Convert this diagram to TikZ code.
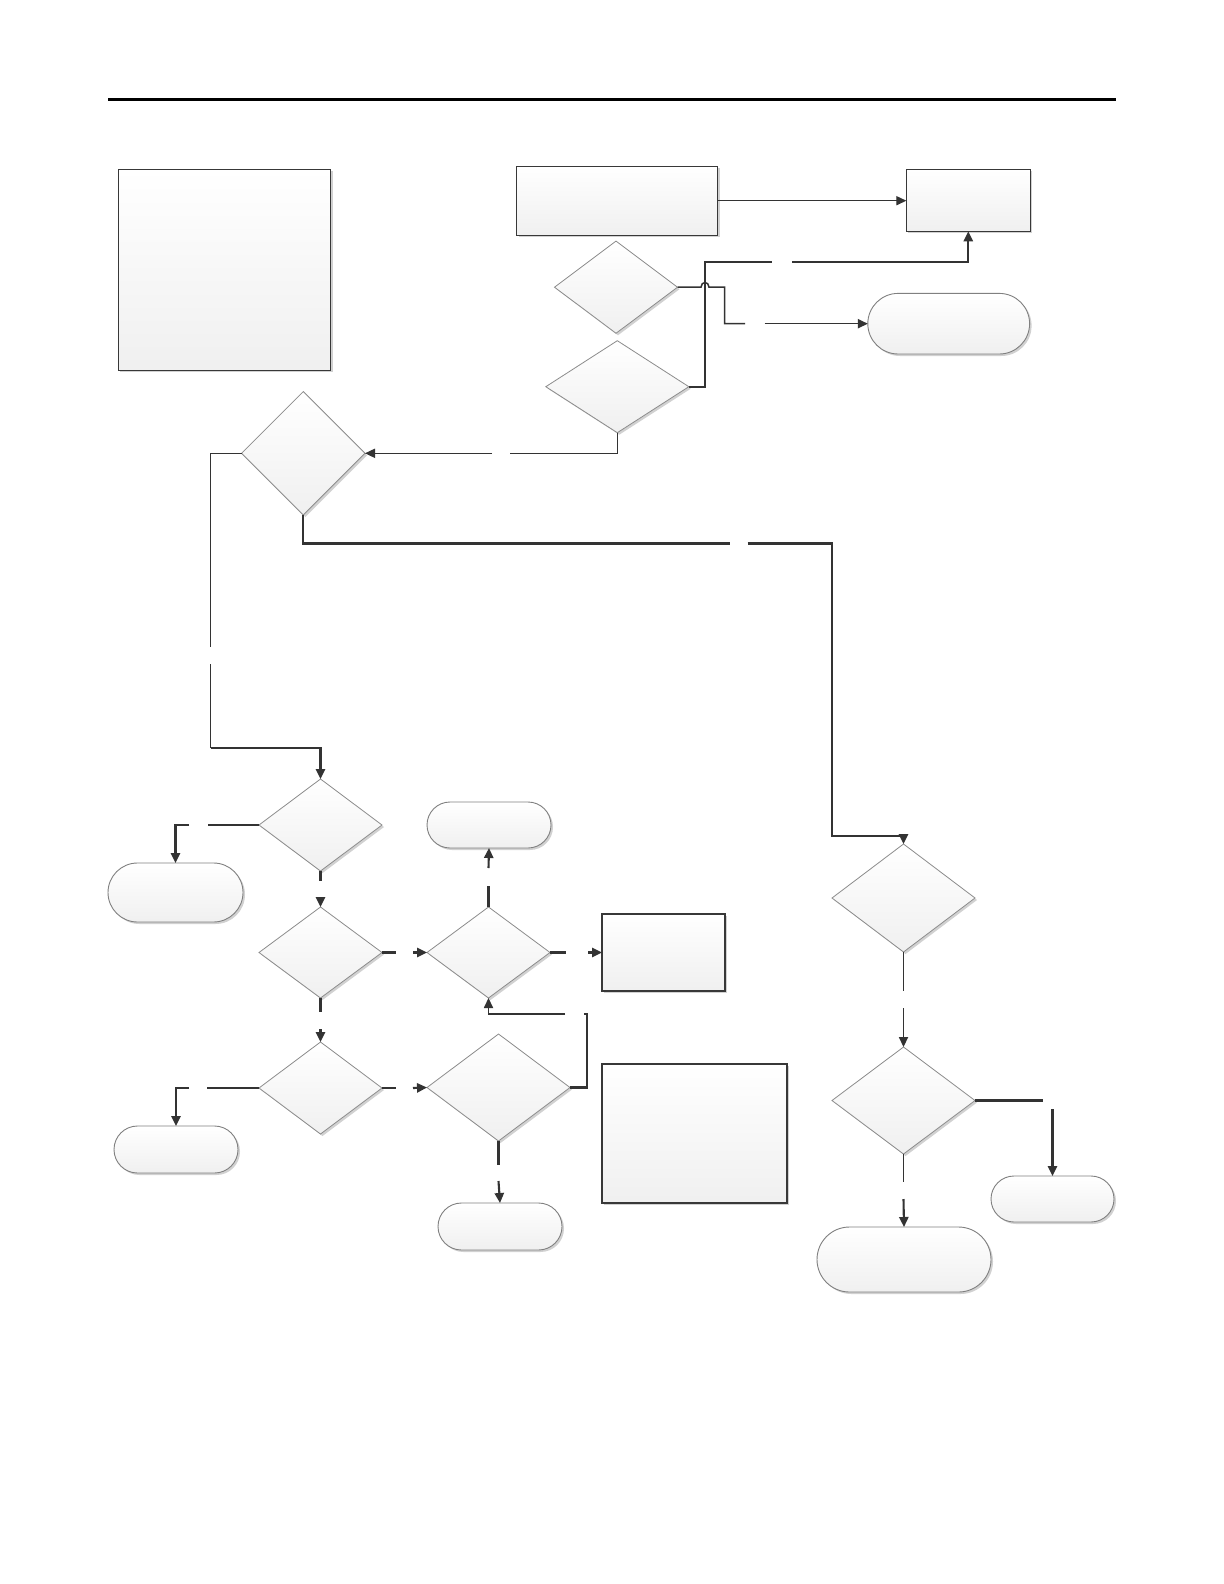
\documentclass[tikz,border=0pt]{standalone}
\usetikzlibrary{shapes.geometric,shapes.misc,shadows,arrows.meta}
\begin{document}
\begin{tikzpicture}[x=0.5pt,y=-0.5pt,
  >={Triangle[length=5pt,width=4.6pt]},
  shapebase/.style={inner sep=0pt, outer sep=0pt, top color=white, bottom color=black!6,
     drop shadow={shadow xshift=1pt,shadow yshift=-1pt,opacity=0.18,fill=black}},
  boxnode/.style={shapebase, rectangle, draw=black!78, line width=0.55pt},
  dianode/.style={shapebase, diamond, draw=black!45, line width=0.4pt},
  termnode/.style={shapebase, rounded rectangle, draw=black!50, line width=0.45pt},
  thinconn/.style={draw=black!80, line width=0.55pt},
  thickconn/.style={draw=black!80, line width=1.05pt},
]
\useasboundingbox (0,0) rectangle (1224,1584);
\fill[white] (0,0) rectangle (1224,1584);

% header rule
\draw[line width=1.5pt] (108,99.3) -- (1116,99.3);

% nodes
\node[boxnode, minimum width=106.2pt, minimum height=100.5pt] (A) at (224.5,269.8) {};
\node[boxnode, minimum width=100.5pt, minimum height=34.6pt] (B) at (617,200.7) {};
\node[boxnode, minimum width=62pt, minimum height=31pt] (C) at (968.3,200.3) {};
\node[dianode, minimum width=61.5pt, minimum height=46.1pt] (Da) at (616,287.2) {};
\node[dianode, minimum width=71.5pt, minimum height=46pt] (Db) at (617.3,386.7) {};
\node[termnode, minimum width=80.9pt, minimum height=30.3pt] (T1) at (948.7,323.7) {};
\node[dianode, minimum width=61.7pt, minimum height=61.7pt] (D0) at (303.3,453.3) {};

\node[dianode, minimum width=61.5pt, minimum height=46pt] (D1) at (320.5,825) {};
\node[termnode, minimum width=67.5pt, minimum height=29.5pt] (T2) at (175.5,892.5) {};
\node[dianode, minimum width=61.5pt, minimum height=45.5pt] (D2) at (320.5,952.5) {};
\node[dianode, minimum width=61.5pt, minimum height=45.5pt] (D5) at (488.5,952.5) {};
\node[termnode, minimum width=62pt, minimum height=23pt] (T3) at (489,825) {};
\node[boxnode, minimum width=61.5pt, minimum height=38.5pt] (R1) at (663.5,952.5) {};
\node[dianode, minimum width=61.5pt, minimum height=46pt] (D6) at (320.5,1088) {};
\node[termnode, minimum width=62pt, minimum height=23.5pt] (T4) at (176,1149.5) {};
\node[dianode, minimum width=71.5pt, minimum height=53.5pt] (D7) at (498.5,1087.5) {};
\node[termnode, minimum width=62pt, minimum height=23.5pt] (T7) at (500,1226.5) {};
\node[boxnode, minimum width=92.5pt, minimum height=69.5pt] (R2) at (694.5,1133.5) {};

\node[dianode, minimum width=71.5pt, minimum height=54pt] (D3) at (903.5,898) {};
\node[dianode, minimum width=71.5pt, minimum height=53.5pt] (D4) at (903.5,1100.5) {};
\node[termnode, minimum width=61.5pt, minimum height=23pt] (T5) at (1052.5,1199) {};
\node[termnode, minimum width=87pt, minimum height=32.5pt] (T6) at (904,1259.5) {};

% coordinates for connector bends and label gaps
\coordinate (v1) at (705,262);
\coordinate (g1a) at (772,262);
\coordinate (g1b) at (792,262);
\coordinate (h1) at (701,287.2);
\coordinate (h1c1) at (701,281);
\coordinate (h1c2) at (709,281);
\coordinate (h2) at (709,287.2);
\coordinate (k1) at (724.5,287.2);
\coordinate (k2) at (724.5,323.7);
\coordinate (g2a) at (745,323.7);
\coordinate (g2b) at (764.5,323.7);
\coordinate (g3a) at (510,453.3);
\coordinate (g3b) at (492,453.3);
\coordinate (l1) at (210.5,453.3);
\coordinate (g4a) at (210.5,647);
\coordinate (g4b) at (210.5,664);
\coordinate (l2) at (210.5,747.7);
\coordinate (l3) at (320.5,747.7);
\coordinate (g5a) at (729.7,543.5);
\coordinate (g5b) at (747.5,543.5);
\coordinate (r1) at (831.7,543.5);
\coordinate (r2) at (831.7,836);
\coordinate (r3) at (903.5,836);
\coordinate (g6a) at (208,825);
\coordinate (g6b) at (189,825);
\coordinate (g7a) at (320.5,881);
\coordinate (g7b) at (320.5,897);
\coordinate (g8a) at (396,952.5);
\coordinate (g8b) at (413,952.5);
\coordinate (g9a) at (488.5,886);
\coordinate (g9b) at (488.5,868);
\coordinate (g10a) at (566,952.5);
\coordinate (g10b) at (588,952.5);
\coordinate (g11a) at (320.5,1012);
\coordinate (g11b) at (320.5,1029);
\coordinate (g12a) at (207,1088);
\coordinate (g12b) at (189,1088);
\coordinate (g13a) at (396,1088);
\coordinate (g13b) at (413,1088);
\coordinate (m1) at (587,1014);
\coordinate (g14a) at (584,1014);
\coordinate (g14b) at (565,1014);
\coordinate (g15a) at (498.5,1165);
\coordinate (g15b) at (498.5,1181);
\coordinate (g16a) at (903.5,991);
\coordinate (g16b) at (903.5,1008);
\coordinate (g17a) at (1043,1100.5);
\coordinate (g17b) at (1052.5,1109);
\coordinate (g18a) at (903.5,1182);
\coordinate (g18b) at (903.5,1199);

% connectors
\draw[thinconn,->] (B.east) -- (B.east -| C.west);

\draw[thickconn] (Db.east) -| (v1) -- (g1a);
\draw[thickconn,->] (g1b) -| (C.south);

\draw[thinconn, line width=0.75pt] (Da.east) -- (h1) .. controls (h1c1) and (h1c2) .. (h2) -- (k1) -- (k2) -- (g2a);
\draw[thinconn, line width=0.75pt,->] (g2b) -- (T1.west);

\draw[thinconn] (Db.south) |- (g3a);
\draw[thinconn,->] (g3b) -- (D0.east);

\draw[thinconn] (D0.west) -- (l1) -- (g4a);
\draw[thinconn] (g4b) -- (l2);
\draw[thickconn,->] (l2) -- (l3) -- (D1.north);

\draw[thickconn] (D0.south) |- (g5a);
\draw[thickconn,->] (g5b) -- (r1) -- (r2) -- (r3) -- (D3.north);

\draw[thickconn] (D1.west) -- (g6a);
\draw[thickconn,->] (g6b) -| (T2.north);

\draw[thickconn] (D1.south) -- (g7a);
\draw[thickconn,->] (g7b) -- (D2.north);

\draw[thickconn] (D2.east) -- (g8a);
\draw[thickconn,->] (g8b) -- (D5.west);

\draw[thickconn] (D5.north) -- (g9a);
\draw[thickconn,->] (g9b) -- (T3.south);

\draw[thickconn] (D5.east) -- (g10a);
\draw[thickconn,->] (g10b) -- (R1.west);

\draw[thickconn] (D2.south) -- (g11a);
\draw[thickconn,->] (g11b) -- (D6.north);

\draw[thickconn] (D6.west) -- (g12a);
\draw[thickconn,->] (g12b) -| (T4.north);

\draw[thickconn] (D6.east) -- (g13a);
\draw[thickconn,->] (g13b) -- (D7.west);

\draw[thickconn] (D7.east) -| (m1) -- (g14a);
\draw[thinconn,->] (g14b) -| (D5.south);

\draw[thickconn] (D7.south) -- (g15a);
\draw[thickconn,->] (g15b) -- (T7.north);

\draw[thinconn] (D3.south) -- (g16a);
\draw[thinconn,->] (g16b) -- (D4.north);

\draw[thickconn] (D4.east) -- (g17a);
\draw[thickconn,->] (g17b) -- (T5.north);

\draw[thinconn] (D4.south) -- (g18a);
\draw[thickconn,->] (g18b) -- (T6.north);
\end{tikzpicture}
\end{document}
